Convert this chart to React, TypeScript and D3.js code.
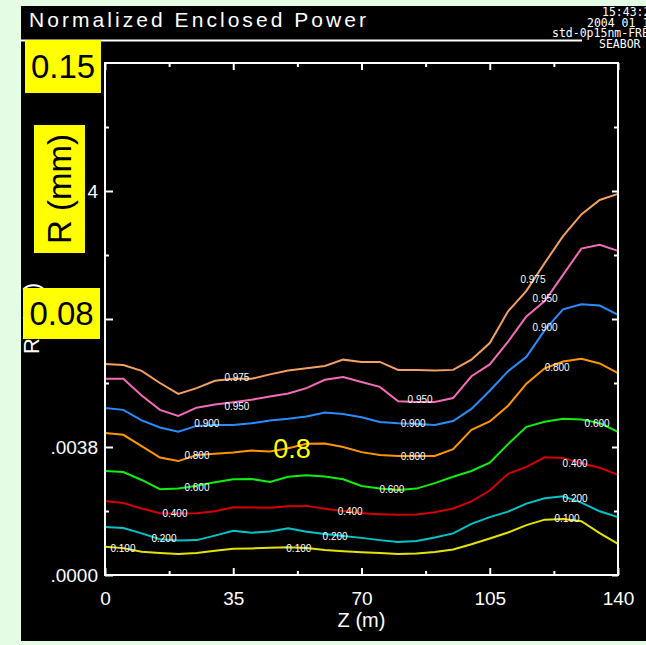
import React, { useEffect, useRef } from "react";
import * as d3 from "d3";

// Z grid (m) shared by every contour level
const Z = [0, 5, 10, 15, 20, 25, 30, 35, 40, 45, 50, 55, 60, 65, 70, 75, 80, 85, 90, 95, 100, 105, 110, 115, 120, 125, 130, 135, 140];

// R (mm) of each enclosed power contour
const R975 = [0.0659, 0.0656, 0.0638, 0.06, 0.0566, 0.0584, 0.0607, 0.0613, 0.0613, 0.0627, 0.0639, 0.0646, 0.0653, 0.0673, 0.0666, 0.0666, 0.0641, 0.0641, 0.0639, 0.0641, 0.0673, 0.0725, 0.0824, 0.0888, 0.0975, 0.1059, 0.1127, 0.1172, 0.1191];
const R950 = [0.0613, 0.0613, 0.0561, 0.0516, 0.0497, 0.0523, 0.0533, 0.054, 0.0548, 0.0558, 0.0567, 0.0584, 0.061, 0.0619, 0.0603, 0.0588, 0.0543, 0.0541, 0.0541, 0.0553, 0.0621, 0.0658, 0.0729, 0.0808, 0.0856, 0.0938, 0.102, 0.1032, 0.1013];
const R900 = [0.0522, 0.0516, 0.0483, 0.0461, 0.0448, 0.0466, 0.0469, 0.0469, 0.0474, 0.0483, 0.0488, 0.0495, 0.0508, 0.0503, 0.0493, 0.0478, 0.0474, 0.0472, 0.0469, 0.0481, 0.0519, 0.0576, 0.0637, 0.0682, 0.0765, 0.083, 0.0846, 0.0842, 0.0813];
const R800 = [0.0444, 0.0438, 0.0403, 0.0367, 0.0356, 0.0375, 0.0379, 0.0383, 0.0389, 0.0386, 0.0396, 0.041, 0.0411, 0.04, 0.0384, 0.0375, 0.0372, 0.0372, 0.0372, 0.0393, 0.0454, 0.048, 0.0529, 0.0598, 0.0646, 0.0667, 0.0676, 0.0661, 0.0631];
const R600 = [0.0325, 0.0322, 0.0297, 0.0268, 0.027, 0.0279, 0.029, 0.0299, 0.03, 0.0291, 0.0307, 0.0312, 0.0308, 0.0299, 0.0278, 0.027, 0.0266, 0.027, 0.0287, 0.0307, 0.0325, 0.0351, 0.0409, 0.0463, 0.0479, 0.0488, 0.0486, 0.0475, 0.0447];
const R400 = [0.0231, 0.0225, 0.0208, 0.0193, 0.0192, 0.0193, 0.0199, 0.0212, 0.0211, 0.021, 0.0215, 0.0216, 0.0207, 0.02, 0.0193, 0.019, 0.0188, 0.0189, 0.0196, 0.0208, 0.023, 0.0264, 0.0316, 0.0338, 0.0368, 0.0366, 0.0349, 0.0335, 0.0313];
const R200 = [0.015, 0.0147, 0.013, 0.0112, 0.0108, 0.0109, 0.0123, 0.0138, 0.0132, 0.0136, 0.0146, 0.0135, 0.0128, 0.0122, 0.0116, 0.0109, 0.0103, 0.0106, 0.0117, 0.013, 0.016, 0.0181, 0.0198, 0.0223, 0.024, 0.0246, 0.0226, 0.0199, 0.0181];
const R100 = [0.0088, 0.0084, 0.0073, 0.0069, 0.0066, 0.0069, 0.0076, 0.0082, 0.0083, 0.0085, 0.0087, 0.0084, 0.0078, 0.0074, 0.0071, 0.0069, 0.0066, 0.0067, 0.0072, 0.008, 0.0096, 0.0114, 0.0133, 0.0156, 0.0173, 0.0175, 0.0168, 0.0131, 0.0097];

const LEVELS = ["0.975", "0.950", "0.900", "0.800", "0.600", "0.400", "0.200", "0.100"];
const SERIES = [R975, R950, R900, R800, R600, R400, R200, R100];
const COLORS = ["#f4a060", "#f46cb8", "#2a8cff", "#ff9600", "#10ee10", "#d40000", "#00c4c8", "#e4e400"];

// where the contour labels sit, [z, r]
const LABELS = [
  [[36.0, 0.0616], [116.8, 0.0922]],
  [[36.0, 0.0528], [86.0, 0.0547], [120.1, 0.0863]],
  [[27.8, 0.0472], [84.1, 0.0472], [120.1, 0.0775]],
  [[25.1, 0.0372], [84.1, 0.0369], [123.4, 0.065]],
  [[25.1, 0.0272], [78.3, 0.0266], [134.3, 0.0475]],
  [[19.1, 0.0191], [66.9, 0.0197], [128.3, 0.035]],
  [[16.1, 0.0113], [62.8, 0.0119], [128.3, 0.0238]],
  [[4.9, 0.0084], [52.9, 0.0084], [126.1, 0.0178]],
];

const X_TICKS = [0, 35, 70, 105, 140];
const X_MINOR = [17.5, 52.5, 87.5, 122.5];
const Y_TICKS = [0, 0.04, 0.12];
const Y_TICK_LABELS = [".0000", ".0038", "4"];
const Y_MINOR = [0.02, 0.06, 0.08, 0.1, 0.14];
const Y_MAJOR_UNLABELED = [0.08];
const STAMP = ["15:43:2", "2004 01 1", "std-0p15nm-FRE", "SEABOR"];

const W = 646;
const H = 645;

const App = () => {
  const svgRef = useRef(null);

  useEffect(() => {
    const svg = d3.select(svgRef.current);
    svg.selectAll("*").remove();

    const margin = { top: 63, right: 28, bottom: 70, left: 105 };
    const x = d3.scaleLinear().domain([0, 140]).range([margin.left, W - margin.right]);
    const y = d3.scaleLinear().domain([0, 0.16]).range([H - margin.bottom, margin.top]);

    svg.append("rect").attr("width", W).attr("height", H).attr("fill", "#e4fbe4");
    svg.append("defs").append("clipPath").attr("id", "panel")
      .append("rect").attr("x", 21).attr("y", 6).attr("width", W - 21).attr("height", 635);
    const root = svg.append("g").attr("clip-path", "url(#panel)");
    root.append("rect").attr("x", 21).attr("y", 6).attr("width", W - 21).attr("height", 635).attr("fill", "#000");

    // header
    root.append("text").attr("x", 29).attr("y", 27)
      .attr("fill", "#fff").attr("font-family", "Liberation Sans, Arial, sans-serif").attr("font-size", 21)
      .attr("textLength", 337).attr("lengthAdjust", "spacing")
      .text("Normalized Enclosed Power");
    root.append("line").attr("x1", 21).attr("x2", 582).attr("y1", 40.5).attr("y2", 40.5)
      .attr("stroke", "#fff").attr("stroke-width", 2);
    const stampX = [602, 587, 552, 599];
    root.selectAll(".stamp").data(STAMP).join("text")
      .attr("x", (d, i) => stampX[i]).attr("y", (d, i) => 16 + i * 10.5)
      .attr("fill", "#fff").attr("font-family", "DejaVu Sans Mono, monospace").attr("font-size", 11.5)
      .text((d) => d);

    // leftover axis title, mostly hidden
    root.append("text").attr("transform", "translate(39,354) rotate(-90)")
      .attr("fill", "#fff").attr("font-family", "Liberation Sans, Arial, sans-serif").attr("font-size", 22)
      .attr("textLength", 71).attr("lengthAdjust", "spacing").text("R (m)");

    // contour lines
    const line = d3.line().x((d) => x(d[0])).y((d) => y(d[1]));
    SERIES.forEach((r, i) => {
      root.append("path").datum(Z.map((z, j) => [z, r[j]]))
        .attr("d", line).attr("fill", "none").attr("stroke", COLORS[i]).attr("stroke-width", 2);
    });
    LABELS.forEach((pts, i) => {
      root.append("g").selectAll("text").data(pts).join("text")
        .attr("x", (d) => x(d[0])).attr("y", (d) => y(d[1]))
        .attr("text-anchor", "middle").attr("dominant-baseline", "central")
        .attr("fill", "#fff").attr("font-family", "Liberation Sans, Arial, sans-serif").attr("font-size", 10)
        .text(LEVELS[i]);
    });

    // frame and ticks
    const axisStyle = (g) => {
      g.select(".domain").remove();
      g.selectAll("line").attr("stroke", "#fff").attr("stroke-width", 2);
      g.attr("color", "#fff").attr("font-family", "Liberation Sans, Arial, sans-serif").attr("font-size", 19);
    };
    const bottom = H - margin.bottom;
    const right = W - margin.right;
    root.append("g").attr("transform", `translate(0,${bottom})`)
      .call(d3.axisBottom(x).tickValues(X_TICKS).tickSize(-7).tickPadding(17).tickFormat(d3.format("d"))).call(axisStyle);
    root.append("g").attr("transform", `translate(0,${bottom})`)
      .call(d3.axisBottom(x).tickValues(X_MINOR).tickSize(-4).tickFormat(() => "")).call(axisStyle);
    root.append("g").attr("transform", `translate(0,${margin.top})`)
      .call(d3.axisTop(x).tickValues(X_TICKS).tickSize(-7).tickFormat(() => "")).call(axisStyle);
    root.append("g").attr("transform", `translate(0,${margin.top})`)
      .call(d3.axisTop(x).tickValues(X_MINOR).tickSize(-4).tickFormat(() => "")).call(axisStyle);
    root.append("g").attr("transform", `translate(${margin.left},0)`)
      .call(d3.axisLeft(y).tickValues(Y_TICKS).tickSize(-8).tickPadding(7)
        .tickFormat((d) => Y_TICK_LABELS[Y_TICKS.indexOf(d)])).call(axisStyle);
    root.append("g").attr("transform", `translate(${margin.left},0)`)
      .call(d3.axisLeft(y).tickValues(Y_MAJOR_UNLABELED).tickSize(-8).tickFormat(() => "")).call(axisStyle);
    root.append("g").attr("transform", `translate(${margin.left},0)`)
      .call(d3.axisLeft(y).tickValues(Y_MINOR.filter((v) => v !== 0.08)).tickSize(-4).tickFormat(() => "")).call(axisStyle);
    root.append("g").attr("transform", `translate(${right},0)`)
      .call(d3.axisRight(y).tickValues([...Y_TICKS, ...Y_MAJOR_UNLABELED]).tickSize(-6).tickFormat(() => "")).call(axisStyle);
    root.append("g").attr("transform", `translate(${right},0)`)
      .call(d3.axisRight(y).tickValues(Y_MINOR.filter((v) => v !== 0.08)).tickSize(-4).tickFormat(() => "")).call(axisStyle);
    root.append("rect").attr("x", margin.left).attr("y", margin.top)
      .attr("width", right - margin.left).attr("height", bottom - margin.top)
      .attr("fill", "none").attr("stroke", "#fff").attr("stroke-width", 2);

    root.append("text").attr("x", (margin.left + right) / 2).attr("y", 627)
      .attr("text-anchor", "middle").attr("fill", "#fff")
      .attr("font-family", "Liberation Sans, Arial, sans-serif").attr("font-size", 20).text("Z (m)");

    // yellow annotations
    const boxes = [
      { x: 25, y: 40, w: 76, h: 53, t: "0.15", rot: false },
      { x: 34, y: 125, w: 51, h: 128, t: "R (mm)", rot: true },
      { x: 23, y: 288, w: 77, h: 51, t: "0.08", rot: false },
    ];
    boxes.forEach((b) => {
      root.append("rect").attr("x", b.x).attr("y", b.y).attr("width", b.w).attr("height", b.h).attr("fill", "#ffff00");
      const cx = b.x + b.w / 2;
      const cy = b.y + b.h / 2;
      root.append("text").attr("transform", `translate(${cx},${cy})${b.rot ? " rotate(-90)" : ""}`)
        .attr("text-anchor", "middle").attr("dominant-baseline", "central")
        .attr("fill", "#000").attr("font-family", "Liberation Sans, Arial, sans-serif").attr("font-size", 33)
        .text(b.t);
    });
    root.append("text").attr("x", 292).attr("y", 449)
      .attr("text-anchor", "middle").attr("dominant-baseline", "central")
      .attr("fill", "#ffff00").attr("font-family", "Liberation Sans, Arial, sans-serif").attr("font-size", 27)
      .text("0.8");
  }, []);

  return <svg ref={svgRef} width={W} height={H} style={{ position: "absolute", left: 0, top: 0, display: "block" }}></svg>;
};

export default App;
